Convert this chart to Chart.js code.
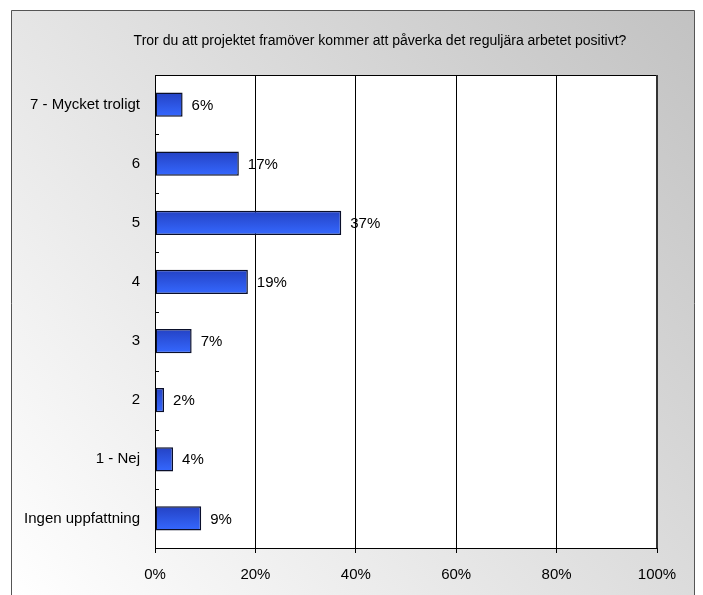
<html lang="sv">
<head>
<meta charset="UTF-8">
<title>Påverka det reguljära arbetet</title>
<script src="https://cdn.jsdelivr.net/npm/chart.js"></script>
<style>
  body { margin: 0; background: #fff; }
  #wrap { width: 703px; height: 595px; }
</style>
</head>
<body>
<div id="wrap"><canvas id="myChart" width="703" height="595"></canvas></div>
<script>
// svarsalternativ och andelar (procent)
const kategorier = ['7 - Mycket troligt', '6', '5', '4', '3', '2', '1 - Nej', 'Ingen uppfattning'];
const andelar = [5.5, 16.7, 37.1, 18.5, 7.3, 1.8, 3.6, 9.2];
const etiketter = ['6%', '17%', '37%', '19%', '7%', '2%', '4%', '9%'];
const xTicks = [0, 20, 40, 60, 80, 100];
const rubrik = 'Tror du att projektet framöver kommer att påverka det reguljära arbetet positivt?';

const FONT = 'Liberation Sans, Arial, sans-serif';

// bakgrund, ram och rubrik
const bakgrund = {
  id: 'bakgrund',
  beforeDraw(chart) {
    const c = chart.ctx;
    c.save();
    c.fillStyle = '#fff';
    c.fillRect(0, 0, chart.width, chart.height);
    const g = c.createLinearGradient(11, 595, 694, 10);
    g.addColorStop(0, '#ffffff');
    g.addColorStop(1, '#c2c2c2');
    c.fillStyle = g;
    c.fillRect(11, 10, 683, 600);
    c.strokeStyle = '#555';
    c.lineWidth = 1;
    c.beginPath();
    c.moveTo(11.5, 600); c.lineTo(11.5, 10.5); c.lineTo(694.5, 10.5); c.lineTo(694.5, 600);
    c.stroke();
    const a = chart.chartArea;
    c.fillStyle = '#fff';
    c.fillRect(a.left, a.top, a.right - a.left, a.bottom - a.top);
    c.fillStyle = '#000';
    c.font = '14px ' + FONT;
    c.textAlign = 'center';
    c.textBaseline = 'middle';
    c.fillText(rubrik, 380, 41);
    c.restore();
  },
  afterDatasetsDraw(chart) {
    const c = chart.ctx;
    const a = chart.chartArea;
    c.save();
    // ram runt diagramytan
    c.strokeStyle = '#000';
    c.lineWidth = 1;
    c.strokeRect(a.left + 0.5, a.top + 0.5, a.right - a.left - 1, a.bottom - a.top);
    c.strokeStyle = '#333';
    c.lineWidth = 2;
    c.beginPath();
    c.moveTo(a.right, a.top); c.lineTo(a.right, a.bottom);
    c.stroke();
    // små streck på kategoriaxeln
    c.strokeStyle = '#000';
    c.lineWidth = 1;
    const n = kategorier.length;
    const h = (a.bottom - a.top) / n;
    for (let i = 1; i < n; i++) {
      const y = Math.round(a.top + i * h) + 0.5;
      c.beginPath(); c.moveTo(a.left, y); c.lineTo(a.left + 4, y); c.stroke();
    }
    // värdeetiketter
    c.fillStyle = '#000';
    c.font = '15px ' + FONT;
    c.textAlign = 'left';
    c.textBaseline = 'middle';
    chart.getDatasetMeta(0).data.forEach((bar, i) => {
      c.fillText(etiketter[i], bar.x + 9, bar.y + 1);
    });
    c.restore();
  }
};

function stapelFarg(context) {
  const chart = context.chart;
  const y = chart.scales.y;
  if (!chart.chartArea || !y || context.dataIndex === undefined) return '#2f5cf0';
  const mid = y.getPixelForValue(context.dataIndex);
  const g = chart.ctx.createLinearGradient(0, mid - 12, 0, mid + 12);
  g.addColorStop(0, '#2442c4');
  g.addColorStop(1, '#3568ff');
  return g;
}

new Chart(document.getElementById('myChart'), {
  type: 'bar',
  data: {
    labels: kategorier,
    datasets: [{
      data: andelar,
      backgroundColor: stapelFarg,
      borderColor: '#0a0f2a',
      borderWidth: 1.5,
      borderSkipped: false,
      barPercentage: 0.41,
      categoryPercentage: 1
    }]
  },
  plugins: [bakgrund],
  options: {
    indexAxis: 'y',
    responsive: false,
    animation: false,
    layout: { padding: { left: 0, right: 46, top: 75, bottom: 0 } },
    plugins: { legend: { display: false }, tooltip: { enabled: false } },
    scales: {
      x: {
        min: 0, max: 100,
        afterBuildTicks: s => { s.ticks = xTicks.map(v => ({ value: v })); },
        afterFit: s => { s.height = 47; },
        border: { display: false },
        grid: { color: '#000', lineWidth: 1, tickLength: 5, drawTicks: true },
        ticks: {
          color: '#000',
          font: { family: FONT, size: 15 },
          padding: 13,
          maxRotation: 0,
          callback: v => v + '%'
        }
      },
      y: {
        afterFit: s => { s.width = 155; },
        border: { display: false },
        grid: { display: false },
        ticks: {
          color: '#000',
          font: { family: FONT, size: 15 },
          padding: 7
        }
      }
    }
  }
});
</script>
</body>
</html>
